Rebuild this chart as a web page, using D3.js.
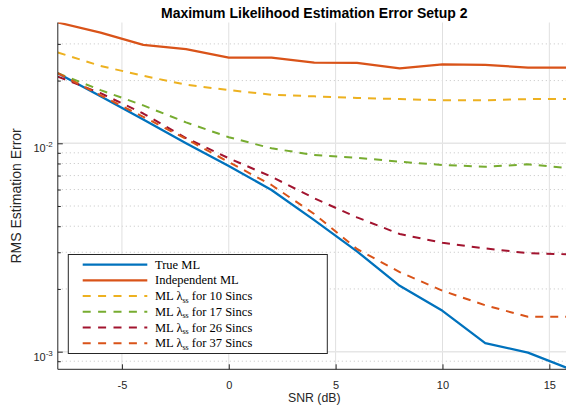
<!DOCTYPE html>
<html>
<head>
<meta charset="utf-8">
<script src="https://cdn.jsdelivr.net/npm/d3@7"></script>
<style>
  body { margin: 0; background: #fff; }
  svg { display: block; font-family: "Liberation Sans", Arial, sans-serif; }
</style>
</head>
<body>
<svg id="chart" width="566" height="414"></svg>
<script>
// SNR points (dB)
const snr = [-8, -6, -4, -2, 0, 2, 4, 6, 8, 10, 12, 14, 16];

// RMS estimation error
const trueML = [0.0217, 0.0168, 0.0130, 0.0100, 0.00778, 0.00597, 0.00428, 0.00303, 0.00207, 0.00157, 0.00110, 0.00099, 0.000823];
const independentML = [0.0380, 0.0340, 0.0297, 0.0283, 0.0258, 0.0258, 0.0244, 0.0243, 0.0229, 0.0239, 0.0238, 0.0231, 0.0231];
const ml10 = [0.0273, 0.0235, 0.0211, 0.0191, 0.0180, 0.0171, 0.0168, 0.0165, 0.0163, 0.0161, 0.0161, 0.0163, 0.0163];
const ml17 = [0.0217, 0.0180, 0.0152, 0.0126, 0.0107, 0.00946, 0.00879, 0.00853, 0.00816, 0.00787, 0.00772, 0.00793, 0.00759];
const ml26 = [0.0209, 0.0174, 0.0139, 0.0106, 0.00848, 0.00691, 0.00545, 0.00441, 0.00367, 0.00333, 0.00313, 0.00297, 0.00293];
const ml37 = [0.0217, 0.0170, 0.0134, 0.0105, 0.00813, 0.00631, 0.00458, 0.00311, 0.00241, 0.00196, 0.00167, 0.00147, 0.00147];

const seriesNames = ["True ML", "Independent ML", "10", "17", "26", "37"];
const seriesValues = [trueML, independentML, ml10, ml17, ml26, ml37];
const seriesColors = ["#0072BD", "#D95319", "#EDB120", "#77AC30", "#A2142F", "#D95319"];
const seriesDashed = [false, false, true, true, true, true];

const xTicks = [-5, 0, 5, 10, 15];
const yMajor = [1e-3, 1e-2];
const yMinor = [9e-4, 2e-3, 3e-3, 4e-3, 5e-3, 6e-3, 7e-3, 8e-3, 9e-3, 2e-2, 3e-2];

const svg = d3.select("#chart");
const plotLeft = 57.8, plotRight = 570.7, plotTop = 22.5, plotBottom = 369.3;
const axisColor = "#262626";

const x = d3.scaleLinear().domain([-8, 16]).range([plotLeft, plotRight]);
const y = d3.scaleLog().domain([0.000823, 0.0380]).range([plotBottom, plotTop]);

svg.append("defs").append("clipPath").attr("id", "plot-clip")
  .append("rect").attr("x", plotLeft).attr("y", plotTop)
  .attr("width", plotRight - plotLeft).attr("height", plotBottom - plotTop);

// grid
const grid = svg.append("g").attr("class", "grid");
grid.selectAll(".minor")
  .data(yMinor)
  .join("line")
  .attr("x1", plotLeft).attr("x2", plotRight)
  .attr("y1", (d) => y(d)).attr("y2", (d) => y(d))
  .attr("stroke", "#c4c4c4")
  .attr("stroke-width", 1)
  .attr("stroke-dasharray", "1,3");
grid.selectAll(".vmajor")
  .data(xTicks)
  .join("line")
  .attr("x1", (d) => x(d)).attr("x2", (d) => x(d))
  .attr("y1", plotTop).attr("y2", plotBottom)
  .attr("stroke", "#e0e0e0")
  .attr("stroke-width", 1);
grid.selectAll(".hmajor")
  .data(yMajor)
  .join("line")
  .attr("x1", plotLeft).attr("x2", plotRight)
  .attr("y1", (d) => y(d)).attr("y2", (d) => y(d))
  .attr("stroke", "#e6e6e6")
  .attr("stroke-width", 1.5);

// lines
const line = d3.line()
  .x((d, i) => x(snr[i]))
  .y((d) => y(d));

svg.append("g")
  .attr("clip-path", "url(#plot-clip)")
  .selectAll("path")
  .data(seriesValues)
  .join("path")
  .attr("d", line)
  .attr("fill", "none")
  .attr("stroke", (d, i) => seriesColors[i])
  .attr("stroke-width", (d, i) => (seriesDashed[i] ? 2 : 2.3))
  .attr("stroke-dasharray", (d, i) => (seriesDashed[i] ? "8,7" : null))
  .attr("stroke-linejoin", "round");

// axes
const xAxis = svg.append("g")
  .attr("transform", `translate(0,${plotBottom})`)
  .call(d3.axisBottom(x).tickValues(xTicks).tickSizeInner(-5).tickSizeOuter(0).tickPadding(12)
    .tickFormat((d) => String(d)));
xAxis.select(".domain").remove();
xAxis.selectAll("line").attr("stroke", axisColor);
xAxis.selectAll("text")
  .attr("fill", axisColor)
  .style("font-size", "11px")
  .style("font-family", "'Liberation Sans', Arial, sans-serif");

const yAxis = svg.append("g")
  .attr("transform", `translate(${plotLeft},0)`)
  .call(d3.axisLeft(y).tickValues(yMajor).tickSizeInner(-5).tickSizeOuter(0).tickPadding(5).tickFormat(() => ""));
yAxis.select(".domain").remove();
yAxis.selectAll("line").attr("stroke", axisColor);
yAxis.selectAll("text")
  .attr("fill", axisColor)
  .attr("dy", null)
  .attr("y", 8.5)
  .style("font-family", "'Liberation Sans', Arial, sans-serif")
  .each(function (d) {
    const t = d3.select(this);
    t.append("tspan").style("font-size", "11px").text("10");
    t.append("tspan").style("font-size", "8px").attr("dy", -5)
      .text(String(Math.round(Math.log10(d))));
  });

const yMinorAxis = svg.append("g")
  .attr("transform", `translate(${plotLeft},0)`)
  .call(d3.axisLeft(y).tickValues(yMinor).tickSizeInner(-3).tickSizeOuter(0).tickFormat(() => ""));
yMinorAxis.select(".domain").remove();
yMinorAxis.selectAll("line").attr("stroke", axisColor);

svg.append("line")
  .attr("x1", plotLeft).attr("x2", plotLeft).attr("y1", plotTop).attr("y2", plotBottom)
  .attr("stroke", axisColor).attr("stroke-width", 1);
svg.append("line")
  .attr("x1", plotLeft).attr("x2", plotRight).attr("y1", plotBottom).attr("y2", plotBottom)
  .attr("stroke", axisColor).attr("stroke-width", 1);

// labels
svg.append("text")
  .attr("x", (plotLeft + plotRight) / 2).attr("y", 17.5)
  .attr("text-anchor", "middle")
  .style("font-size", "14px").style("font-weight", "bold")
  .attr("fill", "#000")
  .text("Maximum Likelihood Estimation Error Setup 2");

svg.append("text")
  .attr("x", (plotLeft + plotRight) / 2).attr("y", 402)
  .attr("text-anchor", "middle")
  .style("font-size", "12.3px")
  .attr("fill", axisColor)
  .text("SNR (dB)");

svg.append("text")
  .attr("transform", `translate(21,${(plotTop + plotBottom) / 2}) rotate(-90)`)
  .attr("text-anchor", "middle")
  .style("font-size", "14px")
  .attr("fill", axisColor)
  .text("RMS Estimation Error");

// legend
const legend = svg.append("g").attr("class", "legend");
legend.append("rect")
  .attr("x", 68.3).attr("y", 254.5).attr("width", 259).attr("height", 99)
  .attr("fill", "#fff").attr("stroke", axisColor).attr("stroke-width", 1);

const rows = legend.selectAll("g.row")
  .data(seriesNames)
  .join("g")
  .attr("class", "row")
  .attr("transform", (d, i) => `translate(0,${264.7 + i * 15.7})`);

rows.append("line")
  .attr("x1", 82.7).attr("x2", 147.3)
  .attr("stroke", (d, i) => seriesColors[i])
  .attr("stroke-width", (d, i) => (seriesDashed[i] ? 2 : 2.3))
  .attr("stroke-dasharray", (d, i) => (seriesDashed[i] ? "8,7.4" : null));

rows.append("text")
  .attr("x", 155).attr("y", 4)
  .style("font-family", "'Liberation Serif', 'Times New Roman', serif")
  .style("font-size", "12.5px")
  .attr("fill", "#000")
  .each(function (d, i) {
    const t = d3.select(this);
    if (!seriesDashed[i]) {
      t.text(d);
      return;
    }
    t.append("tspan").text("ML \u03bb");
    t.append("tspan").attr("dy", 2.5).style("font-size", "8px").text("ss");
    t.append("tspan").attr("dy", -2.5).text(` for ${d} Sincs`);
  });
</script>
</body>
</html>
